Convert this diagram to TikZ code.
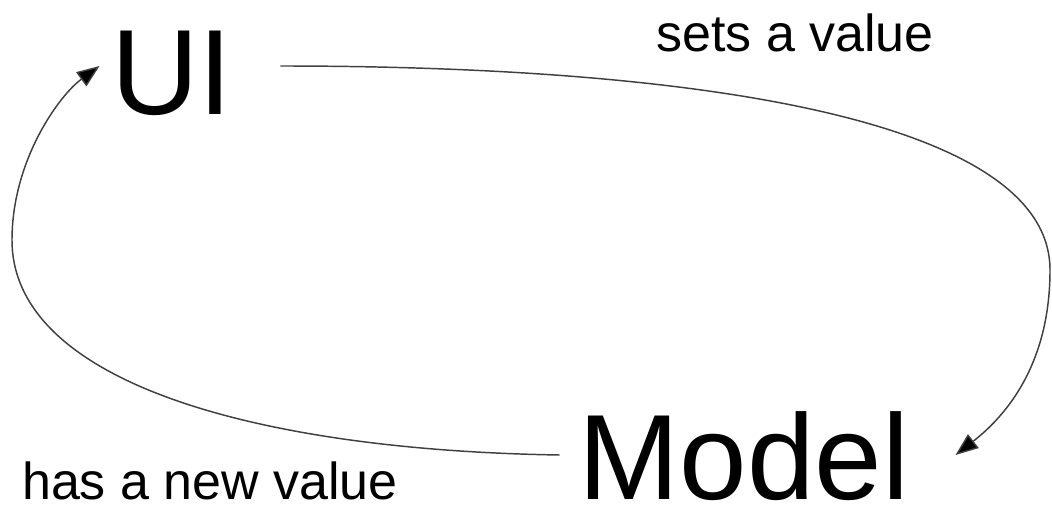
\documentclass[tikz,border=0pt]{standalone}
\usepackage{fontspec}
\setmainfont{Liberation Sans}
\usetikzlibrary{arrows.meta}
\begin{document}
\begin{tikzpicture}[x=0.75pt,y=-0.75pt,
  big/.style={inner sep=0pt,anchor=base,font=\fontsize{91}{100}\selectfont},
  lbl/.style={inner sep=0pt,anchor=base,font=\fontsize{39}{44}\selectfont},
  conn/.style={line width=1.1pt,draw=black!75,-{Triangle[length=17pt,width=13pt,fill=black]}}]
\useasboundingbox (0,0) rectangle (1052,506);
\node[big] (ui) at (172,115) {UI};
\node[big] (model) at (744,499) {Model};
\node[lbl] (sets) at (795,52) {sets a value};
\node[lbl] (has) at (210,499) {has a new value};
\coordinate (uiout) at ([shift={(47.5,-49)}]ui.base east);
\coordinate (uiin) at ([shift={(-11.5,-49)}]ui.base west);
\coordinate (modin) at ([shift={(46,-44)}]model.base east);
\coordinate (modout) at ([shift={(-19,-44)}]model.base west);
\draw[conn] (uiout) .. controls +(420,0) and +(0,-150) .. (1050,270)
  .. controls +(0,100) and +(45,-35) .. (modin);
\draw[conn] (modout) .. controls +(-310,-5) and +(0,140) .. (12,240)
  .. controls +(0,-80) and +(-40,29) .. (uiin);
\end{tikzpicture}
\end{document}
